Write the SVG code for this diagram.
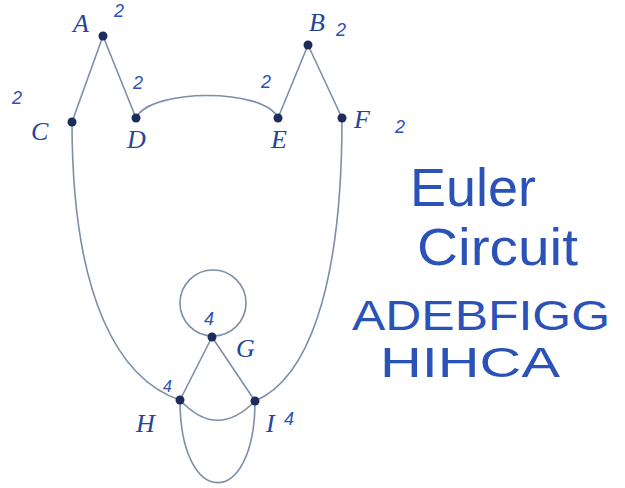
<svg xmlns="http://www.w3.org/2000/svg" width="625" height="488" viewBox="0 0 625 488">
<style>
.e{fill:none;stroke:#7c8fa6;stroke-width:1.6}
.n{fill:#1c2c5c}
.l{font-family:"Liberation Serif",serif;font-style:italic;font-size:26px;fill:#24449a}
.h{font-family:"Liberation Sans","DejaVu Sans",sans-serif;fill:#2a52b8}
.d{font-size:18px;font-style:italic}
</style>
<rect width="625" height="488" fill="#fff"/>
<g id="edges">
<path class="e" d="M103,36 L72,122"/>
<path class="e" d="M103,36 L136,118"/>
<path class="e" d="M308,45 L278,118"/>
<path class="e" d="M308,45 L342,118"/>
<path class="e" d="M136,118 C150,88 265,88 278,118"/>
<path class="e" d="M72,122 C72,300 120,380 180,400"/>
<path class="e" d="M342,118 C342,295 305,380 255,401"/>
<path class="e" d="M180,400 Q217,440 255,401"/>
<path class="e" d="M180,400 C180,510 255,510 255,401"/>
<path class="e" d="M212,337 L180,400"/>
<path class="e" d="M212,337 L255,401"/>
<circle class="e" cx="213" cy="303" r="33"/>
</g>
<g id="A"><circle class="n" cx="103" cy="36" r="4.5"/><text class="l" x="73" y="32">A</text><text class="h d" x="114" y="17">2</text></g>
<g id="B"><circle class="n" cx="308" cy="45" r="4.5"/><text class="l" x="309" y="31">B</text><text class="h d" x="336" y="36">2</text></g>
<g id="C"><circle class="n" cx="72" cy="122" r="4.5"/><text class="l" x="31" y="140">C</text><text class="h d" x="12" y="104">2</text></g>
<g id="D"><circle class="n" cx="136" cy="118" r="4.5"/><text class="l" x="127" y="148">D</text><text class="h d" x="133" y="89">2</text></g>
<g id="E"><circle class="n" cx="278" cy="118" r="4.5"/><text class="l" x="271" y="148">E</text><text class="h d" x="261" y="88">2</text></g>
<g id="F"><circle class="n" cx="342" cy="118" r="4.5"/><text class="l" x="354" y="128">F</text><text class="h d" x="395" y="133">2</text></g>
<g id="G"><circle class="n" cx="212" cy="337" r="4.5"/><text class="l" x="236" y="357">G</text><text class="h d" x="204" y="325">4</text></g>
<g id="H"><circle class="n" cx="180" cy="400" r="4.5"/><text class="l" x="136" y="432">H</text><text class="h d" x="163" y="392" style="font-size:16px">4</text></g>
<g id="I"><circle class="n" cx="255" cy="401" r="4.5"/><text class="l" x="266" y="432">I</text><text class="h d" x="284" y="425">4</text></g>
<g id="notes">
<text class="h" x="410" y="206" font-size="54" textLength="126" lengthAdjust="spacingAndGlyphs">Euler</text>
<text class="h" x="417" y="265" font-size="52" textLength="161" lengthAdjust="spacingAndGlyphs">Circuit</text>
<text class="h" x="352" y="330" font-size="42" textLength="258" lengthAdjust="spacingAndGlyphs">ADEBFIGG</text>
<text class="h" x="380" y="377" font-size="42" textLength="180" lengthAdjust="spacingAndGlyphs">HIHCA</text>
</g>
</svg>
